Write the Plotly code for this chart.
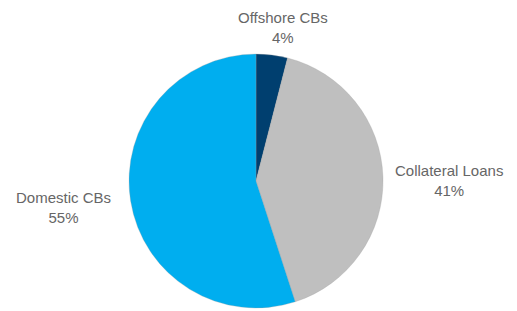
import plotly.graph_objects as go

labels = ["Offshore CBs", "Collateral Loans", "Domestic CBs"]
values = [4, 41, 55]
colors = ["#003F6F", "#BFBFBF", "#00AEEF"]

W, H = 517, 311
cx, cy, r = 256, 181, 127

fig = go.Figure(go.Pie(
    labels=labels, values=values, sort=False, direction="clockwise",
    rotation=0, marker=dict(colors=colors, line=dict(color="#A0A0A0", width=0.3)),
    textinfo="none", hoverinfo="label+percent", showlegend=False,
    domain=dict(x=[(cx - r) / W, (cx + r) / W], y=[1 - (cy + r) / H, 1 - (cy - r) / H]),
))

total = sum(values)
label_pos = [(283, 28), (449, 180), (63, 207)]
for lab, v, (x, y) in zip(labels, values, label_pos):
    fig.add_annotation(
        x=x / W, y=1 - y / H, xref="paper", yref="paper",
        xanchor="center", yanchor="middle",
        text=f"{lab}<br>{round(100 * v / total)}%", showarrow=False,
        font=dict(family="Liberation Sans Narrow, Liberation Sans, Arial", size=15, color="#666666"),
        align="center",
    )

fig.update_layout(width=W, height=H, margin=dict(l=0, r=0, t=0, b=0),
                  paper_bgcolor="white", plot_bgcolor="white")
fig.write_html("out.html", config={"displayModeBar": False},
               post_script="document.body.style.margin='0';")
